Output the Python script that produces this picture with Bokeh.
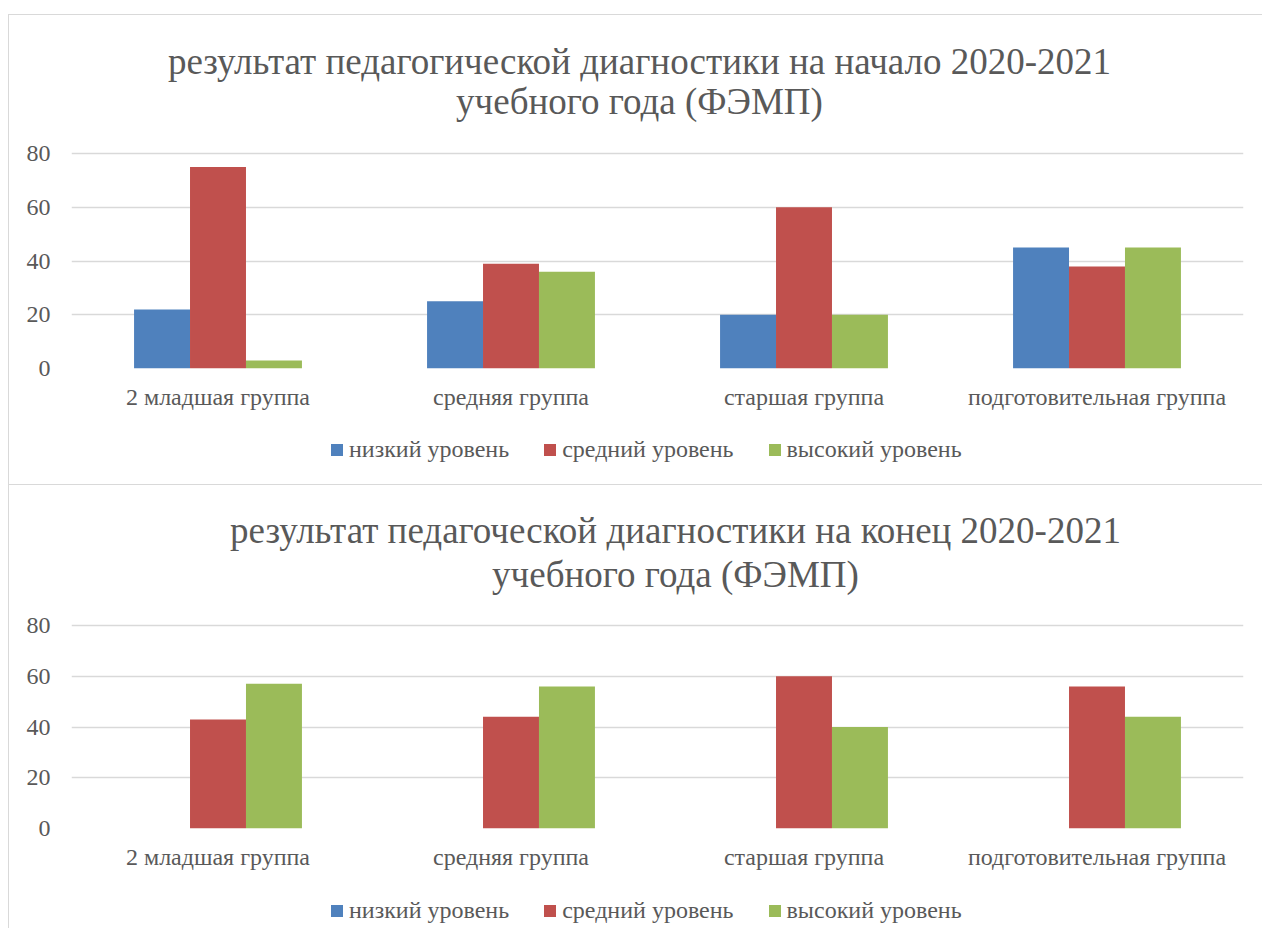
from bokeh.plotting import figure
from bokeh.models import (FactorRange, Range1d, FixedTicker, Legend, LegendItem,
                          Label, ColumnDataSource, Spacer)
from bokeh.transform import dodge
from bokeh.layouts import column, row
from bokeh.embed import file_html
from bokeh.resources import INLINE

categories = ["2 младшая группа", "средняя группа", "старшая группа", "подготовительная группа"]
series_names = ["низкий уровень", "средний уровень", "высокий уровень"]

start_low = [22, 25, 20, 45]
start_mid = [75, 39, 60, 38]
start_high = [3, 36, 20, 45]

end_low = [0, 0, 0, 0]
end_mid = [43, 44, 60, 56]
end_high = [57, 56, 40, 44]

title_start = ["результат педагогической диагностики на начало 2020-2021", "учебного года (ФЭМП)"]
title_end = ["результат педагоческой диагностики на конец 2020-2021", "учебного года (ФЭМП)"]

y_ticks = [0, 20, 40, 60, 80]
colors = ["#4F81BD", "#C0504D", "#9BBB59"]

FONT = "Liberation Serif"
TXT = "#595959"
GRID = "#D9D9D9"
BORDER = "1px solid #D9D9D9"
SMALL = "24px"
BIG = "37px"


def make_main(title_lines, low, mid, high, height, frame_h, px80,
              title_cx, title_y1, title_y2, styles):
    src = ColumnDataSource(dict(cat=categories, low=low, mid=mid, high=high))
    y_end = 80.0 * frame_h / px80
    p = figure(x_range=FactorRange(factors=categories, range_padding=0),
               y_range=Range1d(0, y_end),
               width=1254, height=height, output_backend="svg",
               toolbar_location=None, min_border_left=62, min_border_right=20,
               min_border_top=0, min_border_bottom=height - frame_h)
    p.styles = styles
    bw = 0.191
    for k, o, c in zip(["low", "mid", "high"], [-bw, 0, bw], colors):
        p.vbar(x=dodge("cat", o, range=p.x_range), top=k, width=bw,
               source=src, fill_color=c, line_color=None)

    p.outline_line_color = None
    p.xgrid.grid_line_color = None
    p.ygrid.grid_line_color = GRID
    p.ygrid.grid_line_width = 1.5
    p.ygrid.ticker = FixedTicker(ticks=y_ticks)

    p.yaxis.ticker = FixedTicker(ticks=y_ticks)
    p.yaxis.axis_line_color = None
    p.yaxis.major_tick_line_color = None
    p.yaxis.minor_tick_line_color = None
    p.yaxis.major_label_standoff = 15
    p.yaxis.major_label_text_font = FONT
    p.yaxis.major_label_text_font_size = SMALL
    p.yaxis.major_label_text_color = TXT

    p.xaxis.axis_line_color = None
    p.xaxis.major_tick_line_color = None
    p.xaxis.major_label_standoff = 9
    p.xaxis.major_label_text_font = FONT
    p.xaxis.major_label_text_font_size = SMALL
    p.xaxis.major_label_text_color = TXT

    for txt, ty in zip(title_lines, [title_y1, title_y2]):
        p.add_layout(Label(x=title_cx - 71, y=frame_h - ty,
                           x_units="screen", y_units="screen", text=txt,
                           text_font=FONT, text_font_size=BIG,
                           text_color=TXT, text_align="center",
                           text_baseline="middle"))
    return p


def make_legend(height, vy, styles):
    q = figure(width=1254, height=height, output_backend="svg",
               toolbar_location=None, x_range=Range1d(0, 1), y_range=Range1d(0, 1),
               x_axis_type=None, y_axis_type=None, min_border=0)
    q.styles = styles
    q.outline_line_color = None
    q.xgrid.visible = False
    q.ygrid.visible = False
    # zero-height placeholder bars, only to carry the legend swatches
    rs = [q.vbar(x=[0.5], top=[0], bottom=[0], width=0.01, fill_color=c,
                 line_color=None) for c in colors]
    legend = Legend(items=[LegendItem(label=n, renderers=[r])
                           for n, r in zip(series_names, rs)],
                    orientation="horizontal", location=(258, vy),
                    glyph_width=15, glyph_height=15, label_standoff=5,
                    spacing=33, padding=0, margin=0,
                    border_line_color=None, background_fill_alpha=0,
                    label_text_font=FONT, label_text_font_size=SMALL,
                    label_text_color=TXT)
    q.add_layout(legend, "center")
    return q


# top chart: content from y=15, zero line at 368, 80 at 153, bottom border at 484
m1 = make_main(title_start, start_low, start_mid, start_high,
               height=405, frame_h=353, px80=215,
               title_cx=639, title_y1=46, title_y2=86,
               styles={"border-left": BORDER, "border-top": BORDER})
l1 = make_legend(66, 22, {"border-left": BORDER, "border-bottom": BORDER})
# bottom chart: content from y=485, zero line at 828, 80 at 625
m2 = make_main(title_end, end_low, end_mid, end_high,
               height=395, frame_h=343, px80=203,
               title_cx=675, title_y1=45, title_y2=89,
               styles={"border-left": BORDER})
l2 = make_legend(48, 4, {"border-left": BORDER})

layout = row(Spacer(width=8), column(Spacer(height=14), m1, l1, m2, l2))
open("out.html", "w").write(file_html(layout, INLINE))
